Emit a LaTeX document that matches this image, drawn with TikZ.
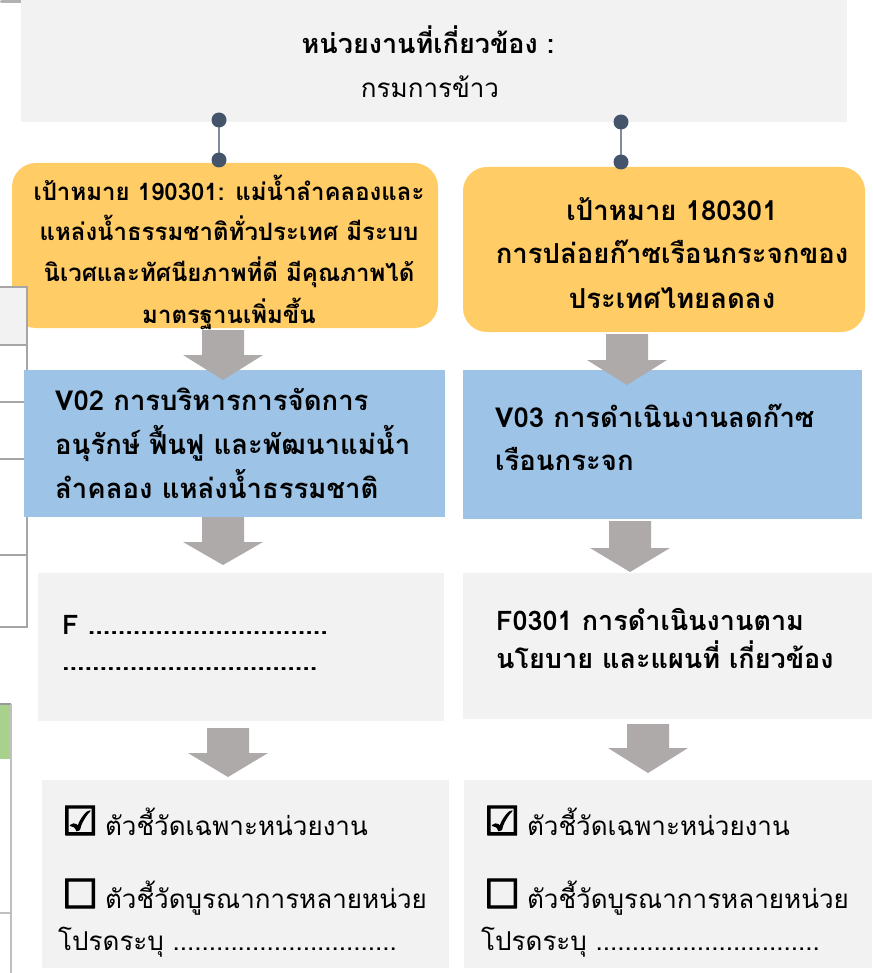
\documentclass[tikz,border=0pt]{standalone}
\usepackage{fontspec}
\setmainfont[Script=Thai]{Loma}
\newfontfamily\symfont[FakeBold=3]{DejaVu Sans}
\definecolor{panelgray}{HTML}{F2F2F2}
\definecolor{goalyellow}{HTML}{FFCC66}
\definecolor{valueblue}{HTML}{9DC3E6}
\definecolor{arrowgray}{HTML}{AEAAAA}
\definecolor{dotdark}{HTML}{44546A}
\definecolor{linkline}{HTML}{7F8C9D}
\definecolor{tableline}{HTML}{A6A6A6}
\definecolor{tablegreen}{HTML}{A9D18E}
\newcommand\garrow[4]{\fill[arrowgray] (#1-21,#2) -- (#1+21,#2) -- (#1+21,#3) -- (#1+40,#3) -- (#1,#4) -- (#1-40,#3) -- (#1-21,#3) -- cycle;}
\newcommand\chkbox[1]{{\symfont\fontsize{40}{40}\selectfont #1}\hspace{7pt}}
\begin{document}
\begin{tikzpicture}[x=1pt,y=-1pt,
  panel/.style={fill=panelgray,draw=none,anchor=north west,inner sep=0pt,outer sep=0pt},
  goalbox/.style={fill=goalyellow,draw=none,rounded corners=24pt,anchor=north west,inner sep=0pt,outer sep=0pt},
  valuebox/.style={fill=valueblue,draw=none,anchor=north west,inner sep=0pt,outer sep=0pt},
  boldtxt/.style={font=\bfseries\fontsize{27}{43}\selectfont,inner sep=0pt},
  plaintxt/.style={font=\fontsize{26}{43}\selectfont,inner sep=0pt},
  chktxt/.style={font=\fontsize{26}{42}\selectfont,inner sep=0pt,anchor=base west},
  dotnode/.style={circle,fill=dotdark,minimum size=15pt,inner sep=0pt},
  tbl/.style={draw=tableline,line width=2pt}
]
\useasboundingbox (0,0) rectangle (872,973);
% top-left smear
\fill[black!30,rounded corners=2pt] (0,0) rectangle (55,3);
% top panel
\node[panel,minimum width=826pt,minimum height=122pt] (top) at (21,0) {};
\node[boldtxt,anchor=base] (toptitle) at (428,54) {หน่วยงานที่เกี่ยวข้อง :};
\node[plaintxt,anchor=base] (topdept) at (430,98) {กรมการข้าว};
% goal boxes
\node[goalbox,minimum width=426pt,minimum height=165pt] (goalL) at (12,163) {};
\node[goalbox,minimum width=402pt,minimum height=165pt] (goalR) at (463,167) {};
\node[boldtxt,align=center,anchor=base,font=\bfseries\fontsize{24}{41}\selectfont] (goalLt) at (229,323)
 {เป้าหมาย 190301: แม่น้ำลำคลองและ\\แหล่งน้ำธรรมชาติทั่วประเทศ มีระบบ\\นิเวศและทัศนียภาพที่ดี มีคุณภาพได้\\มาตรฐานเพิ่มขึ้น};
\node[boldtxt,align=center,anchor=base,font=\bfseries\fontsize{27.5}{44}\selectfont] (goalRt) at (672,308)
 {เป้าหมาย 180301\\การปล่อยก๊าซเรือนกระจกของ\\ประเทศไทยลดลง};
% connectors
\coordinate (cL1) at (219,120);
\coordinate (cL2) at (219,160);
\coordinate (cR1) at (621,122);
\coordinate (cR2) at (621,162);
\draw[linkline,line width=2pt] (cL1) -- (cL2);
\draw[linkline,line width=2pt] (cR1) -- (cR2);
\node[dotnode] (dL1) at (cL1) {};
\node[dotnode] (dL2) at (cL2) {};
\node[dotnode] (dR1) at (cR1) {};
\node[dotnode] (dR2) at (cR2) {};
% left table fragment (upper)
\fill[panelgray] (0,287) rectangle (27,345);
\draw[tbl] (0,287) -- (27,287) -- (27,627) -- (0,627);
\foreach \yy in {345,402,459,555} {\draw[tbl] (0,\yy) -- (27,\yy);}
% value boxes
\node[valuebox,minimum width=421pt,minimum height=147pt] (valL) at (24,370) {};
\node[valuebox,minimum width=399pt,minimum height=149pt] (valR) at (463,370) {};
\node[boldtxt,align=left,anchor=base west,font=\bfseries\fontsize{27.5}{44}\selectfont] (valLt) at (55,498)
 {V02 การบริหารการจัดการ\\อนุรักษ์ ฟื้นฟู และพัฒนาแม่น้ำ\\ลำคลอง แหล่งน้ำธรรมชาติ};
\node[boldtxt,align=left,anchor=base west,font=\bfseries\fontsize{27.5}{43}\selectfont] (valRt) at (495,470)
 {V03 การดำเนินงานลดก๊าซ\\เรือนกระจก};
% factor boxes
\node[panel,minimum width=406pt,minimum height=148pt] (facL) at (38,573) {};
\node[panel,minimum width=409pt,minimum height=146pt] (facR) at (463,573) {};
\node[boldtxt,align=left,anchor=base west,font=\bfseries\fontsize{27}{36}\selectfont] (facLt) at (62,670)
 {F ................................\\..................................};
\node[boldtxt,align=left,anchor=base west,font=\bfseries\fontsize{27}{38}\selectfont] (facRt) at (496,668)
 {F0301 การดำเนินงานตาม\\นโยบาย และแผนที่ เกี่ยวข้อง};
% lower table fragment
\fill[tablegreen] (0,704) rectangle (11,759);
\draw[draw=black!40,line width=1.5pt] (0,704) -- (11,704);
\draw[draw=black!25,line width=1.5pt] (11,704) -- (11,973);
\draw[draw=black!25,line width=1.5pt] (0,913) -- (11,913);
% indicator boxes
\node[panel,minimum width=407pt,minimum height=188pt] (indL) at (42,780) {};
\node[panel,minimum width=408pt,minimum height=188pt] (indR) at (464,780) {};
\node[chktxt] (indL1) at (62,835) {\chkbox{☑}ตัวชี้วัดเฉพาะหน่วยงาน};
\node[chktxt] (indL2) at (62,908) {\chkbox{☐}ตัวชี้วัดบูรณาการหลายหน่วย};
\node[chktxt] (indL3) at (58,950) {โปรดระบุ ...............................};
\node[chktxt] (indR1) at (484,835) {\chkbox{☑}ตัวชี้วัดเฉพาะหน่วยงาน};
\node[chktxt] (indR2) at (484,908) {\chkbox{☐}ตัวชี้วัดบูรณาการหลายหน่วย};
\node[chktxt] (indR3) at (481,950) {โปรดระบุ ...............................};
% block arrows
\garrow{223}{330}{355}{380}
\garrow{627}{334}{360}{385}
\garrow{223}{517}{542}{565}
\garrow{630}{521}{548}{572}
\garrow{228}{728}{753}{777}
\garrow{648}{724}{748}{773}
\end{tikzpicture}
\end{document}
